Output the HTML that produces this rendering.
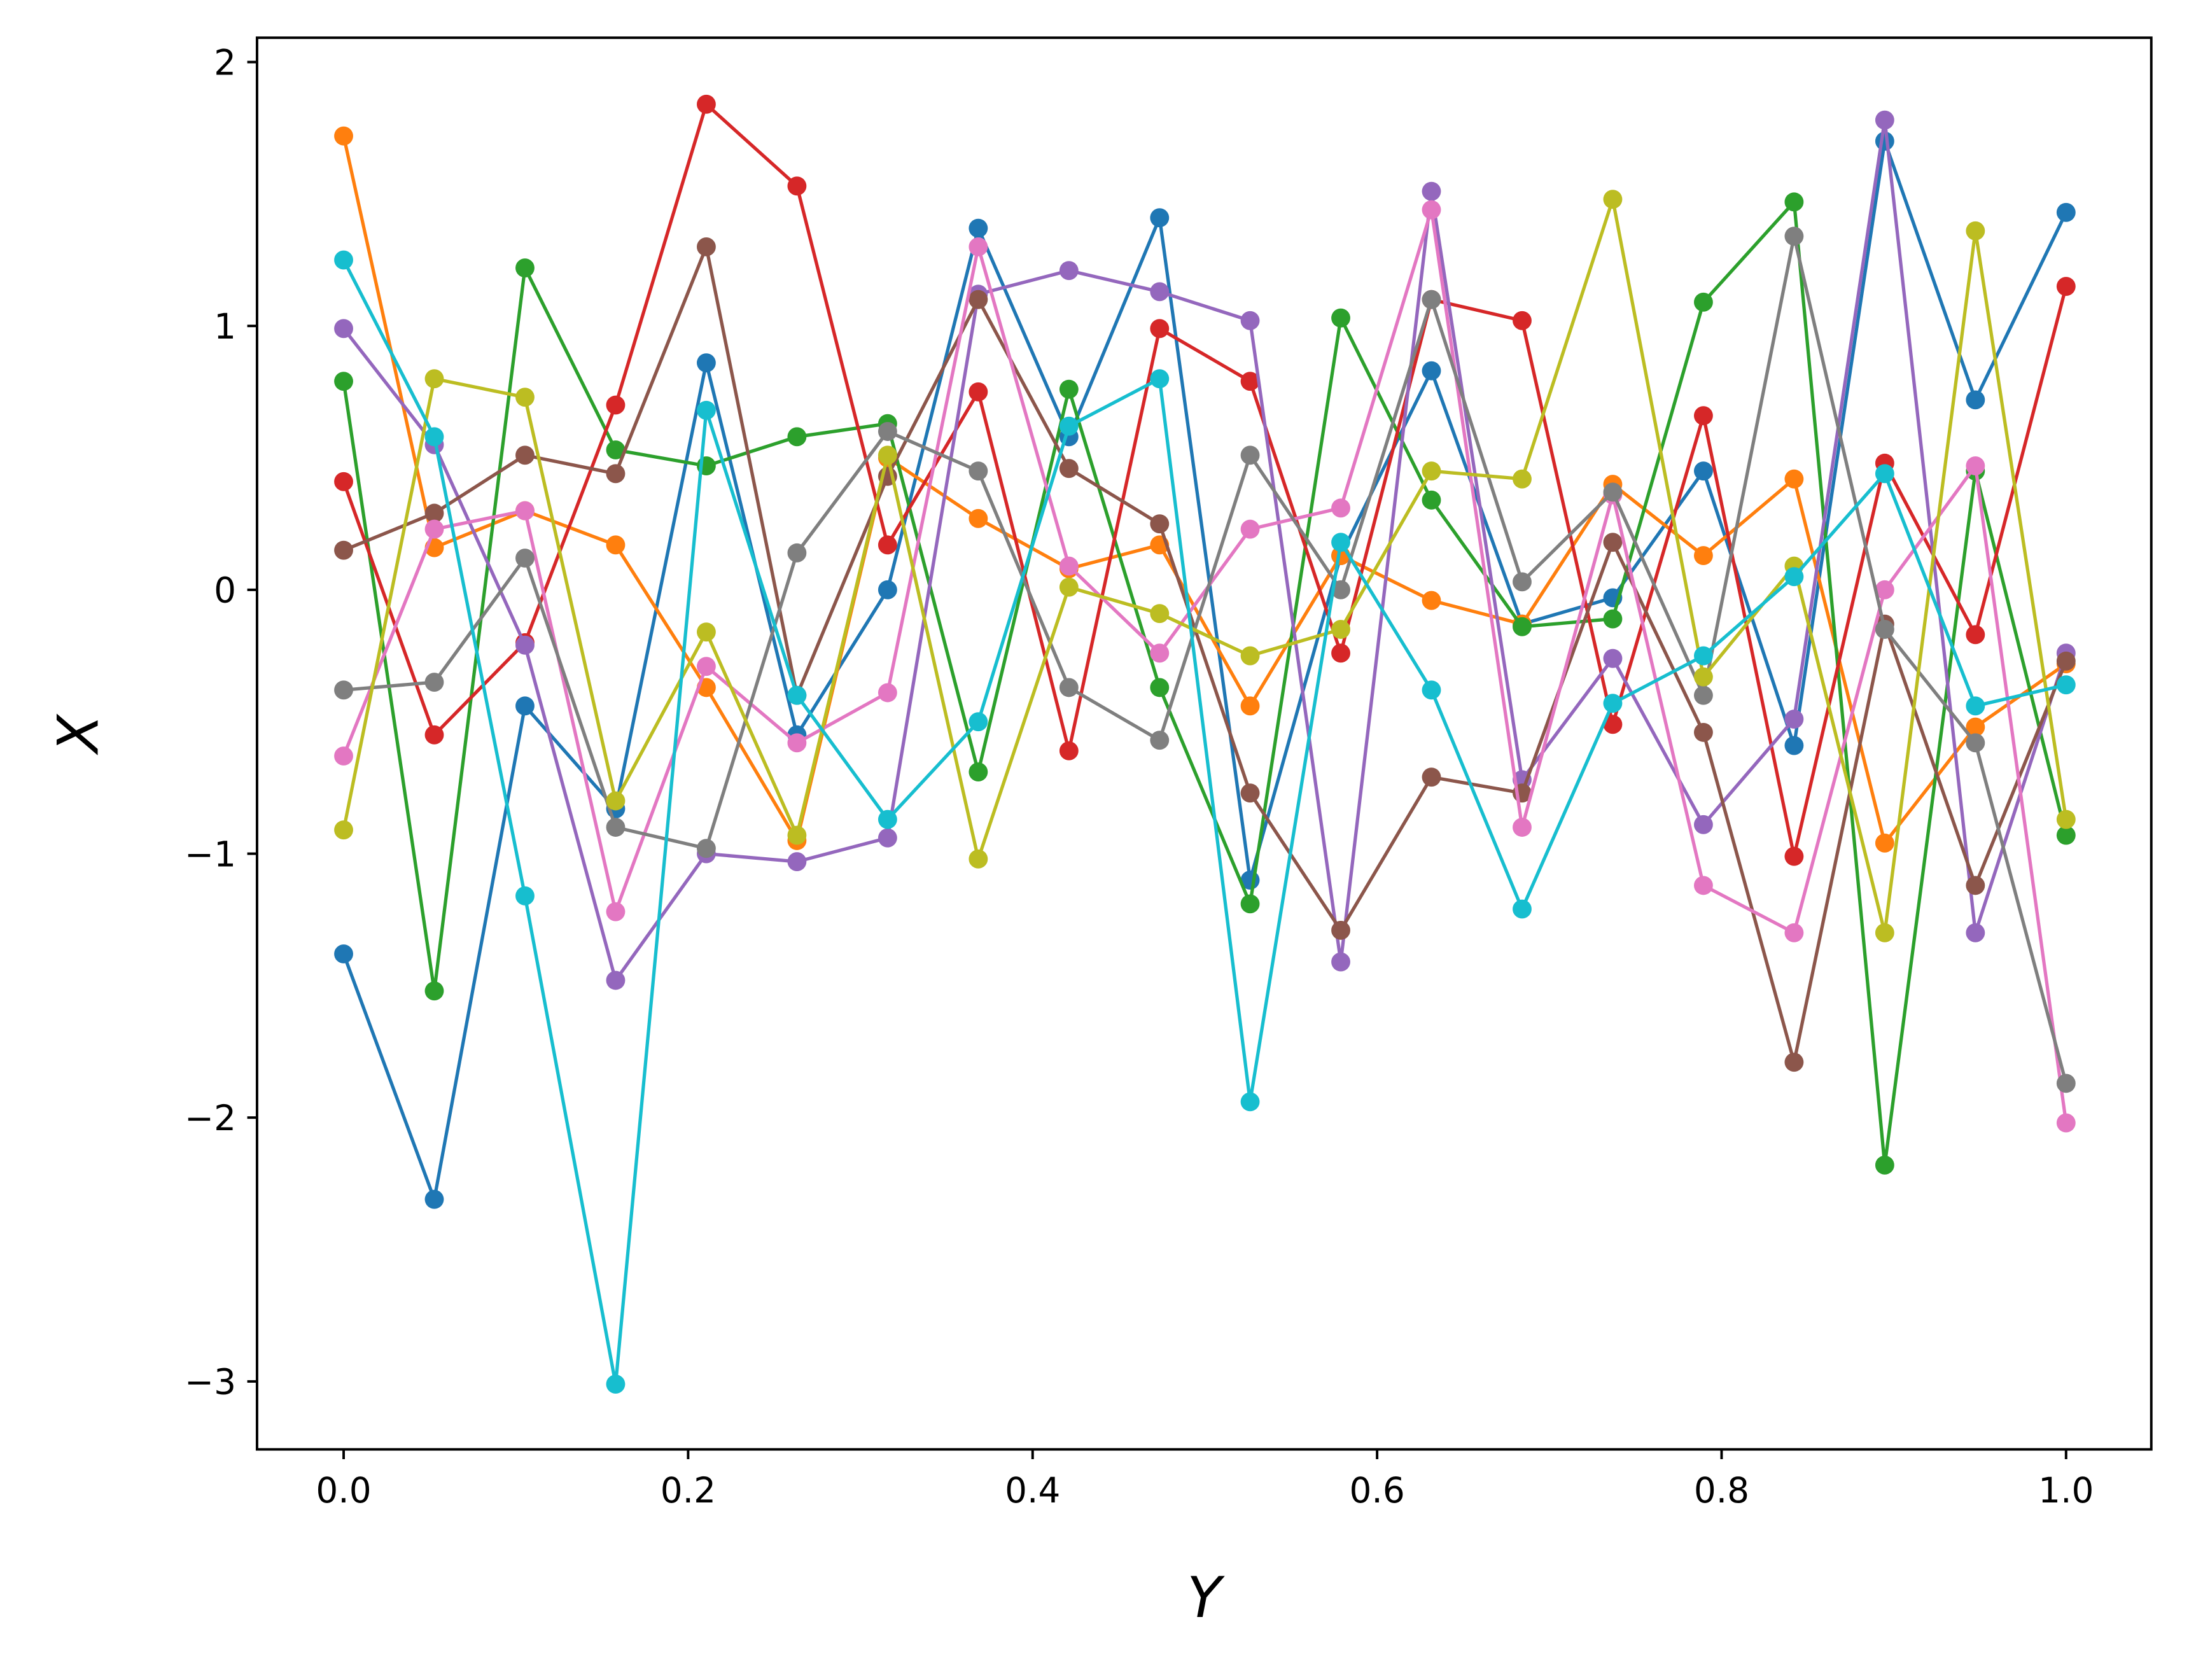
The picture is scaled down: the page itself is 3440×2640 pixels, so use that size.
<!DOCTYPE html>
<html><head><meta charset="utf-8"><style>
html,body{margin:0;padding:0;background:#fff;}
svg{display:block;}
text{font-family:"DejaVu Sans","Liberation Sans",sans-serif;fill:#000;}
</style></head><body>
<svg id="s" width="3440" height="2640" viewBox="0 0 1567 1202" preserveAspectRatio="none" xmlns="http://www.w3.org/2000/svg">
<rect x="0" y="0" width="1600" height="1220" fill="#fff"/>
<g id="series"></g>
<rect x="184" y="27" width="1356" height="1010" fill="none" stroke="#000" stroke-width="1.8"/>
<g id="ticks" stroke="#000" stroke-width="1.8"></g>
<g id="labels" font-size="25"></g>
<text x="862" y="1157" font-size="40" font-style="italic" text-anchor="middle">Y</text>
<text transform="translate(70,525) rotate(-90)" font-size="40" font-style="italic" text-anchor="middle">X</text>
</svg>
<script>
var data=[
["#1f77b4",[-1.38,-2.31,-0.44,-0.83,0.86,-0.55,0.0,1.37,0.58,1.41,-1.10,0.13,0.83,-0.13,-0.03,0.45,-0.59,1.70,0.72,1.43]],
["#ff7f0e",[1.72,0.16,0.30,0.17,-0.37,-0.95,0.50,0.27,0.08,0.17,-0.44,0.13,-0.04,-0.13,0.40,0.13,0.42,-0.96,-0.52,-0.28]],
["#2ca02c",[0.79,-1.52,1.22,0.53,0.47,0.58,0.63,-0.69,0.76,-0.37,-1.19,1.03,0.34,-0.14,-0.11,1.09,1.47,-2.18,0.45,-0.93]],
["#d62728",[0.41,-0.55,-0.20,0.70,1.84,1.53,0.17,0.75,-0.61,0.99,0.79,-0.24,1.10,1.02,-0.51,0.66,-1.01,0.48,-0.17,1.15]],
["#9467bd",[0.99,0.55,-0.21,-1.48,-1.00,-1.03,-0.94,1.12,1.21,1.13,1.02,-1.41,1.51,-0.72,-0.26,-0.89,-0.49,1.78,-1.30,-0.24]],
["#8c564b",[0.15,0.29,0.51,0.44,1.30,-0.40,0.43,1.10,0.46,0.25,-0.77,-1.29,-0.71,-0.77,0.18,-0.54,-1.79,-0.13,-1.12,-0.27]],
["#e377c2",[-0.63,0.23,0.30,-1.22,-0.29,-0.58,-0.39,1.30,0.09,-0.24,0.23,0.31,1.44,-0.90,0.36,-1.12,-1.30,0.0,0.47,-2.02]],
["#7f7f7f",[-0.38,-0.35,0.12,-0.90,-0.98,0.14,0.60,0.45,-0.37,-0.57,0.51,0.0,1.10,0.03,0.37,-0.40,1.34,-0.15,-0.58,-1.87]],
["#bcbd22",[-0.91,0.80,0.73,-0.80,-0.16,-0.93,0.51,-1.02,0.01,-0.09,-0.25,-0.15,0.45,0.42,1.48,-0.33,0.09,-1.30,1.36,-0.87]],
["#17becf",[1.25,0.58,-1.16,-3.01,0.68,-0.40,-0.87,-0.50,0.62,0.80,-1.94,0.18,-0.38,-1.21,-0.43,-0.25,0.05,0.44,-0.44,-0.36]]
];
function X(t){return 246+t*1233;}
function Yv(v){return 422-v*188.8;}
var g=document.getElementById('series'),h='';
data.forEach(function(d){
 var pts=d[1].map(function(v,i){return X(i/19).toFixed(1)+','+Yv(v).toFixed(1);});
 h+='<polyline fill="none" stroke="'+d[0]+'" stroke-width="2.4" stroke-linejoin="round" points="'+pts.join(' ')+'"/>';
 d[1].forEach(function(v,i){h+='<circle cx="'+X(i/19).toFixed(1)+'" cy="'+Yv(v).toFixed(1)+'" r="6.8" fill="'+d[0]+'"/>';});
});
g.innerHTML=h;
var t='',l='';
for(var i=0;i<=5;i++){var x=X(i*0.2);t+='<line x1="'+x+'" y1="1037" x2="'+x+'" y2="1044"/>';
 l+='<text x="'+x+'" y="1075" text-anchor="middle">'+(i*0.2).toFixed(1)+'</text>';}
for(var v=-3;v<=2;v++){var y=Yv(v);t+='<line x1="177" y1="'+y+'" x2="184" y2="'+y+'"/>';
 l+='<text x="169" y="'+(y+9)+'" text-anchor="end">'+(v<0?'\u2212'+(-v):v)+'</text>';}
document.getElementById('ticks').innerHTML=t;
document.getElementById('labels').innerHTML=l;
</script>
</body></html>
